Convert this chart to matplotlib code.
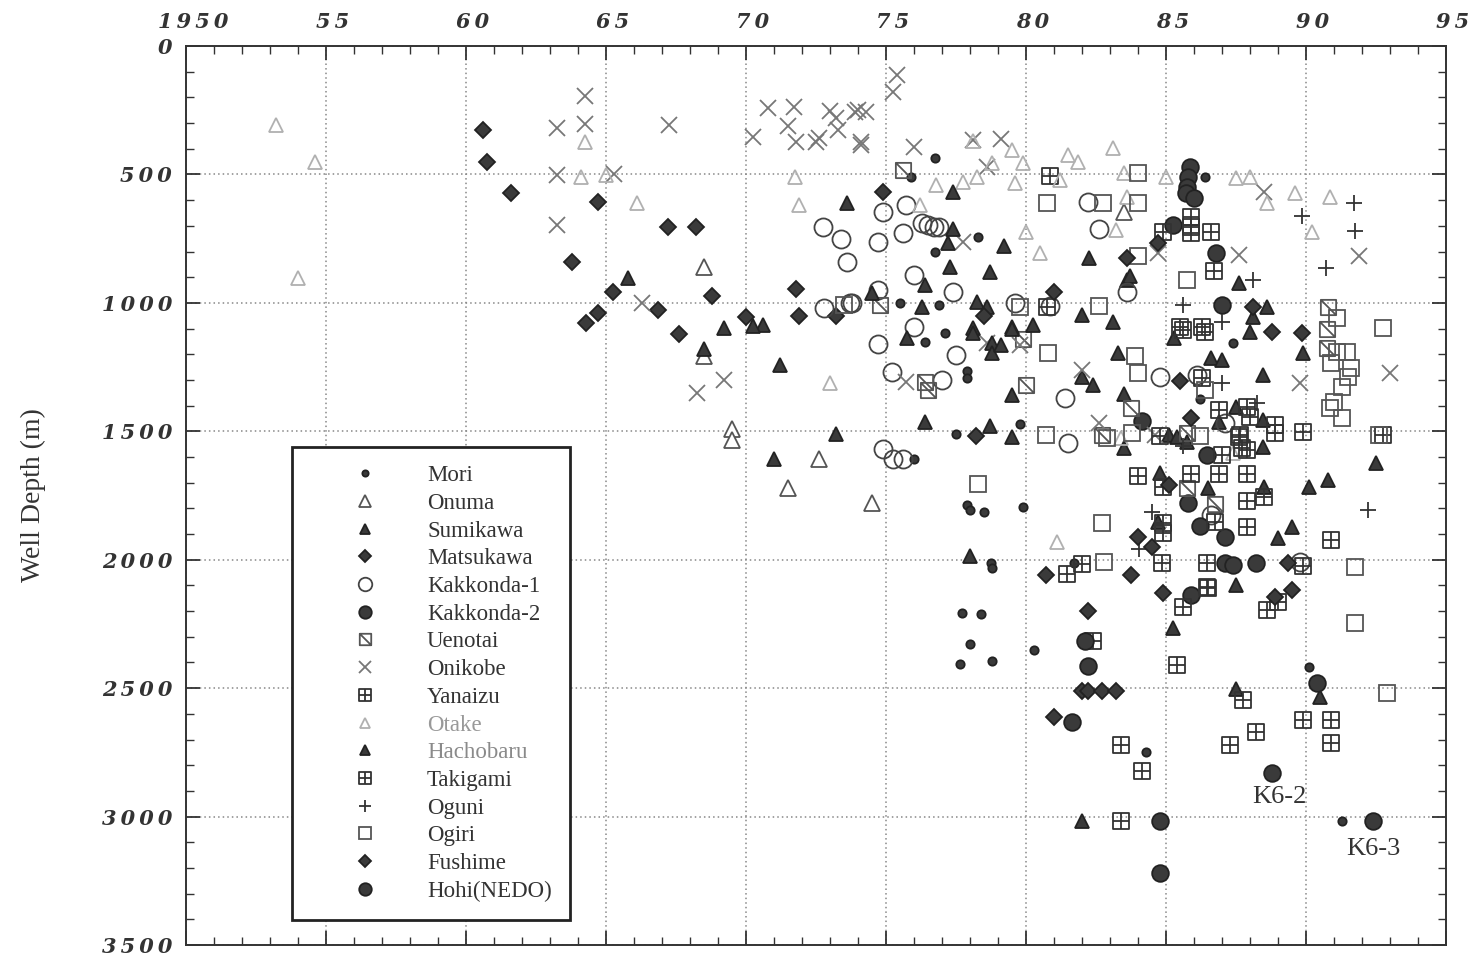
import matplotlib
matplotlib.use("Agg")
import matplotlib.pyplot as plt
from matplotlib.font_manager import FontProperties
from matplotlib.path import Path
from matplotlib.ticker import MultipleLocator
from matplotlib.transforms import ScaledTranslation

# ---- data: (year, depth m) per field ----
mori = [(1976.75, 436), (1975.9, 510), (1978.3, 743), (1976.75, 801), (1975.5, 1000),
        (1976.9, 1008), (1976.4, 1152), (1977.1, 1117), (1977.9, 1265), (1977.9, 1292),
        (1979.8, 1471), (1977.5, 1510), (1976.0, 1607), (1977.9, 1785), (1978.0, 1805),
        (1978.5, 1815), (1979.9, 1794), (1978.75, 2012), (1978.8, 2031), (1986.4, 510),
        (1987.4, 1156), (1986.2, 1374), (1981.7, 2012), (1977.7, 2206), (1978.4, 2210),
        (1978.0, 2327), (1977.65, 2405), (1978.8, 2393), (1980.3, 2350), (1990.1, 2416),
        (1991.3, 3019), (1984.3, 2747)]
onuma = [(1968.5, 860), (1968.5, 1206), (1969.5, 1490), (1969.5, 1533), (1972.6, 1607),
         (1971.5, 1720), (1974.5, 1778), (1983.5, 646)]
sumikawa = [(1982.25, 825), (1983.6, 910), (1983.7, 895), (1987.6, 922), (1982.0, 1047),
            (1983.1, 1074), (1988.6, 1015), (1988.1, 1054), (1988.0, 1113), (1989.9, 1195),
            (1988.45, 1280), (1985.3, 1136), (1983.3, 1195), (1986.6, 1214), (1987.0, 1222),
            (1982.0, 1288), (1982.4, 1319), (1983.5, 1354), (1983.5, 1564), (1985.1, 1514),
            (1985.4, 1521), (1985.75, 1541), (1986.9, 1463), (1987.5, 1405), (1988.45, 1455),
            (1988.45, 1560), (1992.5, 1623), (1984.8, 1661), (1986.5, 1720), (1984.7, 1852),
            (1988.5, 1716), (1990.1, 1716), (1990.8, 1689), (1989.5, 1872), (1989.0, 1915),
            (1987.5, 2097), (1985.25, 2265), (1987.5, 2502), (1990.5, 2533), (1982.0, 3016)]
matsukawa = [(1960.6, 327), (1960.75, 451), (1961.6, 572), (1963.8, 840), (1964.7, 607),
             (1965.25, 957), (1964.7, 1039), (1964.3, 1078), (1967.2, 704), (1968.2, 704),
             (1966.85, 1027), (1968.8, 973), (1967.6, 1121), (1971.8, 946), (1971.9, 1051),
             (1970.0, 1054), (1973.2, 1051), (1974.9, 568)]
kakkonda1 = [(1972.75, 704), (1973.4, 751), (1973.6, 840), (1972.8, 1019), (1973.8, 1000),
             (1975.7, 619), (1975.6, 728), (1974.7, 762), (1976.0, 891), (1977.4, 957),
             (1976.3, 689), (1976.5, 697), (1976.7, 704), (1976.9, 704), (1974.9, 646),
             (1974.7, 949), (1976.0, 1093), (1974.7, 1160), (1977.5, 1202), (1975.2, 1268),
             (1977.0, 1300), (1974.9, 1568), (1975.25, 1607), (1975.6, 1607), (1982.2, 607),
             (1982.6, 712), (1983.6, 957), (1980.85, 1012), (1984.8, 1288), (1986.1, 1280),
             (1981.4, 1370), (1981.5, 1545), (1987.1, 1467), (1986.6, 1825), (1989.8, 2008),
             (1973.7, 1000), (1979.6, 1000)]
kakkonda2 = [(1985.85, 471), (1985.8, 510), (1985.75, 549), (1985.7, 572), (1986.0, 591),
             (1985.25, 697), (1986.8, 806), (1987.0, 1008), (1984.15, 1459), (1986.45, 1591),
             (1985.8, 1778), (1986.2, 1868), (1987.1, 1910), (1987.1, 2012), (1987.4, 2020),
             (1988.2, 2012), (1985.9, 2136), (1990.4, 2479), (1988.8, 2829), (1992.4, 3019)]
uenotai = [(1975.6, 482), (1974.8, 1008), (1979.9, 1140), (1976.4, 1307), (1976.5, 1338),
           (1980.0, 1319), (1983.75, 1409), (1985.75, 1506), (1985.75, 1720), (1986.75, 1782),
           (1990.8, 1015), (1990.75, 1101), (1990.75, 1175), (1982.7, 1514)]
onikobe = [(1967.25, 307), (1970.8, 241), (1971.7, 237), (1971.5, 311), (1971.8, 373),
           (1972.5, 373), (1972.6, 358), (1973.0, 253), (1973.2, 280), (1973.3, 327),
           (1973.9, 257), (1970.25, 354), (1974.1, 373), (1963.25, 502), (1965.3, 500),
           (1964.25, 195), (1964.25, 303), (1963.25, 319), (1963.25, 697), (1966.3, 1000),
           (1969.2, 1300), (1968.25, 1350), (1975.4, 113), (1975.25, 179), (1974.0, 249),
           (1974.3, 257), (1974.1, 385), (1976.0, 393), (1978.1, 366), (1979.1, 362),
           (1978.6, 471), (1977.75, 762), (1984.7, 806), (1987.6, 813), (1988.5, 568),
           (1991.9, 817), (1978.6, 1156), (1979.8, 1164), (1975.7, 1307), (1989.8, 1311),
           (1993.0, 1272), (1982.0, 1261), (1982.6, 1467), (1984.6, 1514)]
yanaizu = [(1980.85, 506), (1980.75, 1015), (1984.9, 724), (1985.9, 665), (1985.9, 704),
           (1985.9, 728), (1986.6, 724), (1986.7, 876), (1985.5, 1093), (1986.3, 1093),
           (1985.6, 1105), (1986.4, 1113), (1986.3, 1292), (1984.8, 1518), (1984.0, 1673),
           (1984.9, 1716), (1985.9, 1665), (1984.9, 1856), (1984.9, 1895), (1982.0, 2016),
           (1981.45, 2054), (1984.85, 2012), (1985.6, 2183), (1982.4, 2315), (1985.4, 2409),
           (1983.4, 2720), (1984.15, 2821), (1983.4, 3016)]
otake = [(1953.2, 307), (1954.6, 451), (1954.0, 903), (1964.1, 510), (1965.0, 502),
         (1964.25, 373), (1966.1, 611), (1971.9, 619), (1971.75, 510), (1973.0, 1311),
         (1978.1, 370), (1979.5, 405), (1979.9, 455), (1978.8, 455), (1978.25, 510),
         (1977.75, 529), (1976.8, 541), (1979.6, 533), (1976.2, 619), (1980.5, 806),
         (1980.0, 724), (1981.5, 424), (1981.85, 451), (1983.1, 397), (1981.2, 521),
         (1983.5, 494), (1983.6, 588), (1985.0, 510), (1987.5, 514), (1988.0, 510),
         (1988.6, 611), (1989.6, 572), (1990.85, 588), (1990.2, 724), (1983.4, 1525),
         (1981.1, 1930), (1987.4, 1584), (1983.2, 716)]
hachobaru = [(1965.8, 903), (1969.2, 1097), (1968.5, 1179), (1970.6, 1086), (1970.25, 1089),
             (1971.2, 1241), (1973.6, 611), (1973.2, 1510), (1971.0, 1607), (1977.4, 568),
             (1979.2, 778), (1977.3, 860), (1978.7, 879), (1976.4, 930), (1977.2, 767),
             (1977.4, 712), (1974.5, 961), (1976.3, 1015), (1978.25, 996), (1978.6, 1015),
             (1978.1, 1097), (1979.5, 1093), (1980.25, 1086), (1975.75, 1136), (1978.1, 1117),
             (1978.8, 1156), (1978.8, 1195), (1979.1, 1164), (1979.5, 1101), (1979.5, 1358),
             (1976.4, 1463), (1978.7, 1479), (1979.5, 1521), (1978.0, 1984)]
takigami = [(1986.9, 1416), (1988.0, 1443), (1987.65, 1514), (1987.9, 1572), (1987.0, 1591),
            (1986.9, 1665), (1987.9, 1668), (1987.9, 1770), (1986.75, 1852), (1987.9, 1872),
            (1986.45, 2012), (1986.45, 2105), (1986.5, 2109), (1987.3, 2720), (1988.2, 2669),
            (1987.9, 1405), (1988.9, 1475), (1988.9, 1506), (1989.9, 1502), (1992.75, 1514),
            (1987.6, 1521), (1987.7, 1564), (1988.5, 1755), (1990.9, 1922), (1989.9, 2024),
            (1989.0, 2163), (1988.6, 2194), (1989.9, 2623), (1990.9, 2623), (1990.9, 2712),
            (1987.75, 2545)]
oguni = [(1988.1, 910), (1985.6, 1008), (1987.0, 1074), (1989.85, 661), (1991.7, 611),
         (1991.75, 720), (1990.7, 864), (1988.25, 1389), (1987.0, 1311), (1985.6, 1556),
         (1984.5, 1813), (1984.05, 1957), (1992.2, 1806)]
ogiri = [(1973.5, 1008), (1979.8, 1015), (1980.75, 611), (1984.0, 494), (1982.75, 611),
         (1984.0, 611), (1984.0, 817), (1985.75, 910), (1982.6, 1012), (1980.8, 1195),
         (1980.7, 1514), (1978.3, 1704), (1983.9, 1206), (1984.0, 1272), (1986.4, 1338),
         (1982.9, 1525), (1983.8, 1506), (1986.2, 1518), (1982.7, 1856), (1982.8, 2008),
         (1991.1, 1058), (1992.75, 1097), (1991.1, 1191), (1991.45, 1191), (1990.9, 1233),
         (1991.6, 1253), (1991.5, 1288), (1991.3, 1327), (1991.0, 1385), (1990.85, 1409),
         (1991.3, 1447), (1992.6, 1514), (1991.75, 2027), (1991.75, 2245), (1992.9, 2518)]
fushime = [(1981.0, 957), (1978.5, 1051), (1984.7, 767), (1983.6, 825), (1988.1, 1015),
           (1988.8, 1113), (1989.85, 1117), (1978.2, 1518), (1980.7, 2058), (1985.5, 1303),
           (1985.9, 1447), (1985.1, 1708), (1984.0, 1910), (1984.5, 1949), (1983.75, 2058),
           (1984.9, 2128), (1989.35, 2012), (1988.9, 2144), (1989.5, 2117), (1982.2, 2198),
           (1982.0, 2513), (1982.2, 2513), (1982.7, 2513), (1983.2, 2513), (1981.0, 2611)]
hohi = [(1982.1, 2315), (1982.2, 2412), (1981.65, 2630), (1984.8, 3016), (1984.8, 3218)]

labels = ["Mori", "Onuma", "Sumikawa", "Matsukawa", "Kakkonda-1", "Kakkonda-2", "Uenotai",
          "Onikobe", "Yanaizu", "Otake", "Hachobaru", "Takigami", "Oguni", "Ogiri",
          "Fushime", "Hohi(NEDO)"]
series = [mori, onuma, sumikawa, matsukawa, kakkonda1, kakkonda2, uenotai, onikobe,
          yanaizu, otake, hachobaru, takigami, oguni, ogiri, fushime, hohi]
annotations = [("K6-2", 1989.07, 2922), ("K6-3", 1992.4, 3128)]

# square with a diagonal, and square with a cross
sq = [(-1, -1), (1, -1), (1, 1), (-1, 1), (-1, -1)]
sq_codes = [Path.MOVETO] + [Path.LINETO] * 3 + [Path.CLOSEPOLY]
diag_sq = Path(sq + [(-1, 1), (1, -1)], sq_codes + [Path.MOVETO, Path.LINETO])
cross_sq = Path(sq + [(0, -1), (0, 1), (-1, 0), (1, 0)],
                sq_codes + [Path.MOVETO, Path.LINETO, Path.MOVETO, Path.LINETO])

DARK = "#3a3a3a"
styles = {
    "Mori": dict(marker="o", ms=6, mfc=DARK, mec="#222"),
    "Onuma": dict(marker="^", ms=11, mfc="white", mec="#555"),
    "Sumikawa": dict(marker="^", ms=10, mfc=DARK, mec="#222"),
    "Matsukawa": dict(marker="D", ms=8, mfc=DARK, mec="#222"),
    "Kakkonda-1": dict(marker="o", ms=13, mfc="none", mec="#444"),
    "Kakkonda-2": dict(marker="o", ms=12, mfc=DARK, mec="#222"),
    "Uenotai": dict(marker=diag_sq, ms=11, mfc="none", mec="#555"),
    "Onikobe": dict(marker="x", ms=11, mfc="none", mec="#777"),
    "Yanaizu": dict(marker=cross_sq, ms=11, mfc="none", mec="#333"),
    "Otake": dict(marker="^", ms=10, mfc="none", mec="#b0b0b0"),
    "Hachobaru": dict(marker="^", ms=10, mfc=DARK, mec="#222"),
    "Takigami": dict(marker=cross_sq, ms=11, mfc="none", mec="#333"),
    "Oguni": dict(marker="+", ms=11, mfc="none", mec="#333"),
    "Ogiri": dict(marker="s", ms=11, mfc="none", mec="#555"),
    "Fushime": dict(marker="D", ms=8, mfc=DARK, mec="#222"),
    "Hohi(NEDO)": dict(marker="o", ms=12, mfc=DARK, mec="#222"),
}
label_colors = {"Otake": "#999999", "Hachobaru": "#8a8a8a"}

fig = plt.figure(figsize=(14.83, 9.63), dpi=100)
ax = fig.add_axes([0.1254, 0.0187, 0.8496, 0.9335])

handles = []
for name, pts in zip(labels, series):
    xs = [p[0] for p in pts]
    ys = [p[1] for p in pts]
    h, = ax.plot(xs, ys, linestyle="none", mew=1.3, label=name, **styles[name])
    handles.append(h)

for text, x, y in annotations:
    ax.text(x, y, text, ha="center", va="center", fontsize=19,
            family="Liberation Serif", color="#333")

ax.set_xlim(1950, 1995)
ax.set_ylim(3500, 0)
ax.xaxis.set_minor_locator(MultipleLocator(1))
ax.yaxis.set_minor_locator(MultipleLocator(100))

# letter-spaced bold italic numbers, as in the original
def spaced(s):
    return "\u2009".join(s)

xticks = list(range(1950, 1996, 5))
ax.set_xticks(xticks)
ax.set_xticklabels([spaced("1950")] + [spaced(str(t % 100)) for t in xticks[1:]])
yticks = list(range(0, 3501, 500))
ax.set_yticks(yticks)
ax.set_yticklabels([spaced(str(t)) for t in yticks])

tick_font = FontProperties(family="DejaVu Serif", weight="bold", style="italic", size=15)
ax.tick_params(which="both", direction="in", top=True, bottom=True, left=True,
               right=True, labeltop=True, labelbottom=False, color="#333")
ax.tick_params(which="major", length=10, width=1.3, pad=10)
ax.tick_params(which="minor", length=6, width=1.0)
shift = ScaledTranslation(0.07, 0, fig.dpi_scale_trans)
for lab in ax.get_xticklabels():
    lab.set_transform(lab.get_transform() + shift)
for lab in ax.get_xticklabels() + ax.get_yticklabels():
    lab.set_fontproperties(tick_font)
    lab.set_color("#333")

ax.grid(True, which="major", linestyle=(0, (1, 2)), color="#888", linewidth=1.1)
for sp in ax.spines.values():
    sp.set_linewidth(1.4)
    sp.set_color("#333")

ax.set_ylabel("Well Depth (m)", family="Liberation Serif", fontsize=20, color="#333")
ax.yaxis.set_label_coords(-0.111, 0.5)

leg = ax.legend(handles=handles, loc="upper left", bbox_to_anchor=(0.084, 0.554),
                borderaxespad=0, fancybox=False, framealpha=1, edgecolor="#222",
                prop=dict(family="Liberation Serif", size=16.5), markerscale=0.75,
                labelspacing=0.29, handlelength=4.8, handletextpad=0.3, borderpad=0.8)
leg.get_frame().set_linewidth(2)
for t in leg.get_texts():
    t.set_color(label_colors.get(t.get_text(), "#333"))

fig.savefig("out.png", dpi=100)
